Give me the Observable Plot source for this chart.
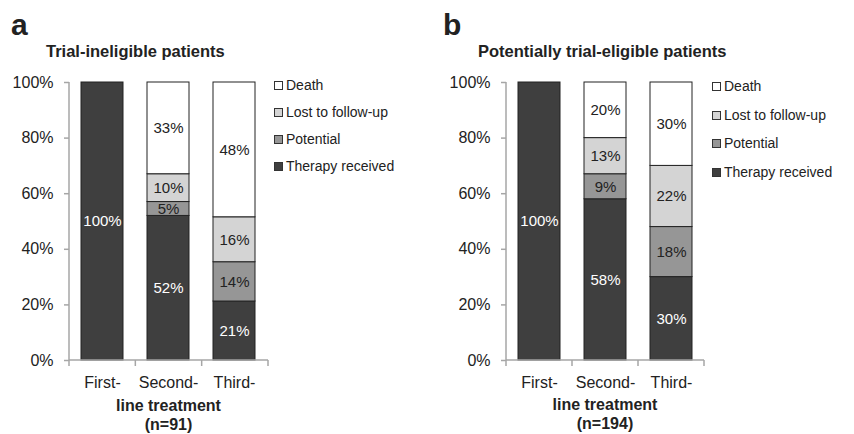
<!DOCTYPE html>
<html><head><meta charset="utf-8">
<script src="https://cdn.jsdelivr.net/npm/d3@7"></script>
<script src="https://cdn.jsdelivr.net/npm/@observablehq/plot@0.6"></script>
<style>
body{margin:0;background:#fff;font-family:"Liberation Sans",Arial,sans-serif;color:#222}
#root{position:relative;width:854px;height:434px;overflow:hidden;background:#fff}
.abs{position:absolute;white-space:nowrap}
.letter{font-weight:bold;font-size:30px;line-height:30px}
.title{font-weight:bold;font-size:16.5px;line-height:16.5px}
.xlab{font-weight:bold;font-size:16px;line-height:15px;text-align:center;width:200px}
.leg{display:flex;align-items:center;font-size:14px;line-height:14px}
.leg span.sw{display:inline-block;width:7px;height:7px;border:1px solid #333;margin-right:3px}
</style></head><body><div id="root"></div>
<script>
const lines = ["First-", "Second-", "Third-"];
const seriesNames = ["Therapy received", "Potential", "Lost to follow-up", "Death"];
const seriesColors = ["#3f3f3f", "#969696", "#d4d4d4", "#ffffff"];

// Panel a: trial-ineligible patients (n=91)
const ineligibleTherapy = [100, 52, 21];
const ineligiblePotential = [0, 5, 14];
const ineligibleLost = [0, 10, 16];
const ineligibleDeath = [0, 33, 48];

// Panel b: potentially trial-eligible patients (n=194)
const eligibleTherapy = [100, 58, 30];
const eligiblePotential = [0, 9, 18];
const eligibleLost = [0, 13, 22];
const eligibleDeath = [0, 20, 30];

const yTicks = [0, 0.2, 0.4, 0.6, 0.8, 1];

const root = document.getElementById("root");

function addDiv(cls, text, left, top, extra) {
  const d = document.createElement("div");
  d.className = "abs " + cls;
  d.textContent = text;
  d.style.left = left + "px";
  d.style.top = top + "px";
  if (extra) Object.assign(d.style, extra);
  root.appendChild(d);
  return d;
}

function panel(cfg) {
  const data = [];
  seriesNames.forEach((s, si) => lines.forEach((l, li) => {
    const v = cfg.values[si][li];
    if (v > 0) data.push({line: l, series: s, value: v});
  }));
  const W = cfg.width;
  const stackOpts = {x: "line", y: "value", z: "series", offset: "normalize"};
  const plot = Plot.plot({
    width: W, height: 400,
    marginLeft: cfg.axisX, marginRight: W - cfg.axisEnd, marginTop: 82, marginBottom: 40,
    style: {fontFamily: "'Liberation Sans', Arial, sans-serif", color: "#222", background: "transparent", overflow: "visible"},
    x: {domain: lines, paddingInner: 0.36, paddingOuter: 0.18, label: null},
    y: {domain: [0, 1], label: null},
    color: {domain: seriesNames, range: seriesColors},
    marks: [
      Plot.barY(data, Plot.stackY({...stackOpts, fill: "series", stroke: "#222", strokeWidth: 1})),
      Plot.text(data, Plot.stackY({...stackOpts, text: d => d.series === seriesNames[0] ? d.value + "%" : "", fill: "#fff", fontSize: 15})),
      Plot.text(data, Plot.stackY({...stackOpts, text: d => d.series !== seriesNames[0] ? d.value + "%" : "", fill: "#222", fontSize: 15})),
      Plot.axisY({ticks: yTicks, tickFormat: d3.format(".0%"), tickSize: 5, tickPadding: 11, stroke: "#a6a6a6", strokeWidth: 1.5, fill: "#222", fontSize: 16, label: null}),
      Plot.axisX({tickSize: 0, tickPadding: 16, fontSize: 16, fill: "#222", label: null})
    ]
  });
  // axis lines and boundary ticks from the scales
  const xs = plot.scale("x"), ys = plot.scale("y");
  const [r0, r1] = xs.range;
  const yb = ys.apply(0), yt = ys.apply(1);
  const step = (r1 - r0) / lines.length;
  const g = d3.select(plot).append("g").attr("stroke", "#a6a6a6").attr("stroke-width", 1.5);
  g.append("line").attr("x1", r0).attr("x2", r0).attr("y1", yt).attr("y2", yb);
  g.append("line").attr("x1", r0).attr("x2", r1).attr("y1", yb).attr("y2", yb);
  for (let i = 0; i <= lines.length; i++) {
    g.append("line").attr("x1", r0 + i * step).attr("x2", r0 + i * step).attr("y1", yb).attr("y2", yb + 6);
  }
  const wrap = document.createElement("div");
  wrap.className = "abs";
  wrap.style.left = cfg.left + "px";
  wrap.style.top = "0px";
  wrap.appendChild(plot);
  root.appendChild(wrap);

  addDiv("letter", cfg.letter, cfg.left + cfg.letterX, 10);
  addDiv("title", cfg.title, cfg.left + cfg.titleX, 43);
  const cx = cfg.left + (r0 + r1) / 2;
  addDiv("xlab", "line treatment", cx - 100, cfg.xlabTop);
  addDiv("xlab", cfg.n, cx - 100, cfg.xlabTop + 19);
  // legend
  const order = seriesNames.map((s, i) => i).reverse();
  order.forEach((si, k) => {
    const d = addDiv("leg", "", cfg.left + cfg.legX, cfg.legY[k] - 7);
    const sw = document.createElement("span");
    sw.className = "sw";
    sw.style.background = seriesColors[si];
    d.appendChild(sw);
    d.appendChild(document.createTextNode(seriesNames[si]));
  });
}

panel({
  left: 0, width: 427, axisX: 69, axisEnd: 268,
  values: [ineligibleTherapy, ineligiblePotential, ineligibleLost, ineligibleDeath],
  letter: "a", letterX: 11, title: "Trial-ineligible patients", titleX: 46,
  n: "(n=91)", xlabTop: 398, legX: 274, legY: [85, 112, 139, 166]
});
panel({
  left: 427, width: 427, axisX: 79, axisEnd: 277,
  values: [eligibleTherapy, eligiblePotential, eligibleLost, eligibleDeath],
  letter: "b", letterX: 16, title: "Potentially trial-eligible patients", titleX: 51,
  n: "(n=194)", xlabTop: 397, legX: 285, legY: [86, 115, 143, 172]
});
</script></body></html>
